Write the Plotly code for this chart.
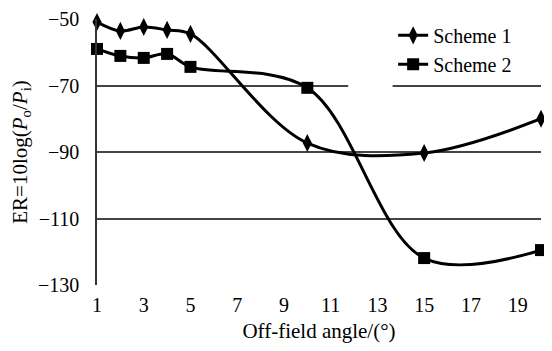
import plotly.graph_objects as go

angles = [1, 2, 3, 4, 5, 10, 15, 20]
scheme1 = [-50.9, -53.6, -52.4, -53.3, -54.5, -87.3, -90.3, -80.0]
scheme2 = [-59.0, -61.1, -61.7, -60.5, -64.4, -70.7, -121.9, -119.5]
x_ticks = [1, 3, 5, 7, 9, 11, 13, 15, 17, 19]
y_ticks = [-130, -110, -90, -70, -50]

FONT = "Liberation Serif, Times New Roman, serif"

fig = go.Figure()
fig.add_trace(go.Scatter(
    x=angles, y=scheme1, name="Scheme 1", mode="lines+markers",
    line=dict(color="black", width=3, shape="spline", smoothing=1.0),
    marker=dict(symbol="diamond-tall", size=13, color="black"),
    cliponaxis=False,
))
fig.add_trace(go.Scatter(
    x=angles, y=scheme2, name="Scheme 2", mode="lines+markers",
    line=dict(color="black", width=3, shape="spline", smoothing=1.0),
    marker=dict(symbol="square", size=12, color="black"),
    cliponaxis=False,
))

# white gap in the -70 gridline, as in the reference
fig.add_shape(type="rect", xref="x", yref="y", x0=11.75, x1=13.65, y0=-71.5, y1=-68.5,
              fillcolor="white", line=dict(width=0), layer="between")

fig.update_layout(
    width=544, height=343,
    margin=dict(l=89, r=11, t=11, b=66, autoexpand=False),
    paper_bgcolor="white", plot_bgcolor="white",
    font=dict(family=FONT, size=20, color="black"),
    showlegend=True,
    legend=dict(x=0.667, y=1.012, xanchor="left", yanchor="top",
                bgcolor="rgba(0,0,0,0)", borderwidth=0,
                font=dict(family=FONT, size=20), tracegroupgap=0,
                itemwidth=30),
    xaxis=dict(range=[1, 20], tickvals=x_ticks, showgrid=False,
               zeroline=False, showline=False, ticks="",
               ticklabelstandoff=6, automargin=False,
               tickfont=dict(family=FONT, size=20),
               title=dict(text="Off-field angle/(°)", standoff=8,
                          font=dict(family=FONT, size=21))),
    yaxis=dict(range=[-130, -50], tickvals=y_ticks, showgrid=True,
               gridcolor="#444444", gridwidth=1.5, zeroline=False,
               showline=True, linecolor="#333333", linewidth=1.5, ticks="",
               ticklabelstandoff=12, automargin=False,
               tickfont=dict(family=FONT, size=20),
               title=dict(text="ER=10log(<i>P</i><sub>o</sub>/<i>P</i><sub>i</sub>)",
                          standoff=10, font=dict(family=FONT, size=21))),
)

fig.write_html("out.html")
